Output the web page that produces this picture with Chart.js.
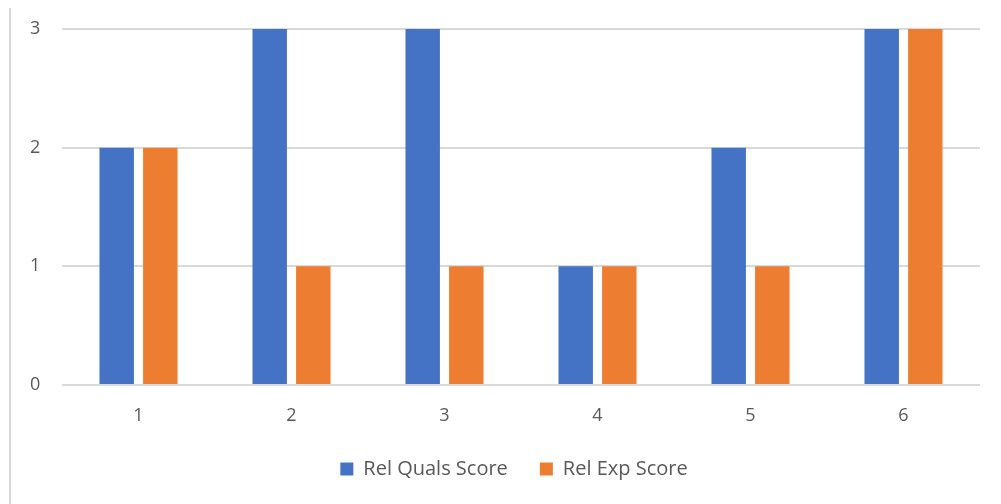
<!DOCTYPE html>
<html>
<head>
<meta charset="utf-8">
<script src="https://cdn.jsdelivr.net/npm/chart.js@4/dist/chart.umd.min.js"></script>
<style>
  html, body { margin: 0; padding: 0; background: #ffffff; }
  #wrap { position: relative; width: 1001px; height: 504px; overflow: hidden; }
  #frame { position: absolute; left: 9px; top: 8px; width: 2px; height: 496px; background: #d9d9d9; }
  canvas { position: absolute; left: 0; top: 0; }
</style>
</head>
<body>
<div id="wrap">
  <div id="frame"></div>
  <canvas id="chart" width="1001" height="504"></canvas>
</div>
<script>
const categories = ['1', '2', '3', '4', '5', '6'];
const qualsScores = [2, 3, 3, 1, 2, 3];
const expScores = [2, 1, 1, 1, 1, 3];
const yTicks = [0, 1, 2, 3];

const textColor = '#595959';
const gridColor = '#d9d9d9';
const fontFamily = "'Open Sans', 'Liberation Sans', sans-serif";

new Chart(document.getElementById('chart'), {
  type: 'bar',
  data: {
    labels: categories,
    datasets: [
      { label: 'Rel Quals Score', data: qualsScores, backgroundColor: '#4472C4', borderWidth: 0 },
      { label: 'Rel Exp Score', data: expScores, backgroundColor: '#ED7D31', borderWidth: 0 }
    ]
  },
  options: {
    responsive: false,
    animation: false,
    devicePixelRatio: 1,
    datasets: { bar: { categoryPercentage: 0.57, barPercentage: 0.79 } },
    layout: { padding: { left: 48, right: 21, top: 29, bottom: 15 } },
    plugins: {
      tooltip: { enabled: false },
      legend: {
        position: 'bottom',
        labels: {
          boxWidth: 13, boxHeight: 13, padding: 32,
          color: textColor,
          font: { family: fontFamily, size: 20 }
        }
      }
    },
    scales: {
      x: {
        afterFit: (s) => { s.height = 42; },
        grid: { display: false, drawTicks: false },
        border: { display: false },
        ticks: { color: textColor, padding: 20, font: { family: fontFamily, size: 18 } }
      },
      y: {
        min: 0, max: 3,
        // labels sit left of the plot in a fixed-width gutter
        afterFit: (s) => { s.width = 14; s.paddingTop = 0; s.paddingBottom = 0; },
        afterBuildTicks: (s) => { s.ticks = yTicks.map(v => ({ value: v })); },
        grid: { color: gridColor, lineWidth: 2, drawTicks: false },
        border: { display: false },
        ticks: { color: textColor, mirror: true, padding: -32, font: { family: fontFamily, size: 18 } }
      }
    }
  }
});
</script>
</body>
</html>
